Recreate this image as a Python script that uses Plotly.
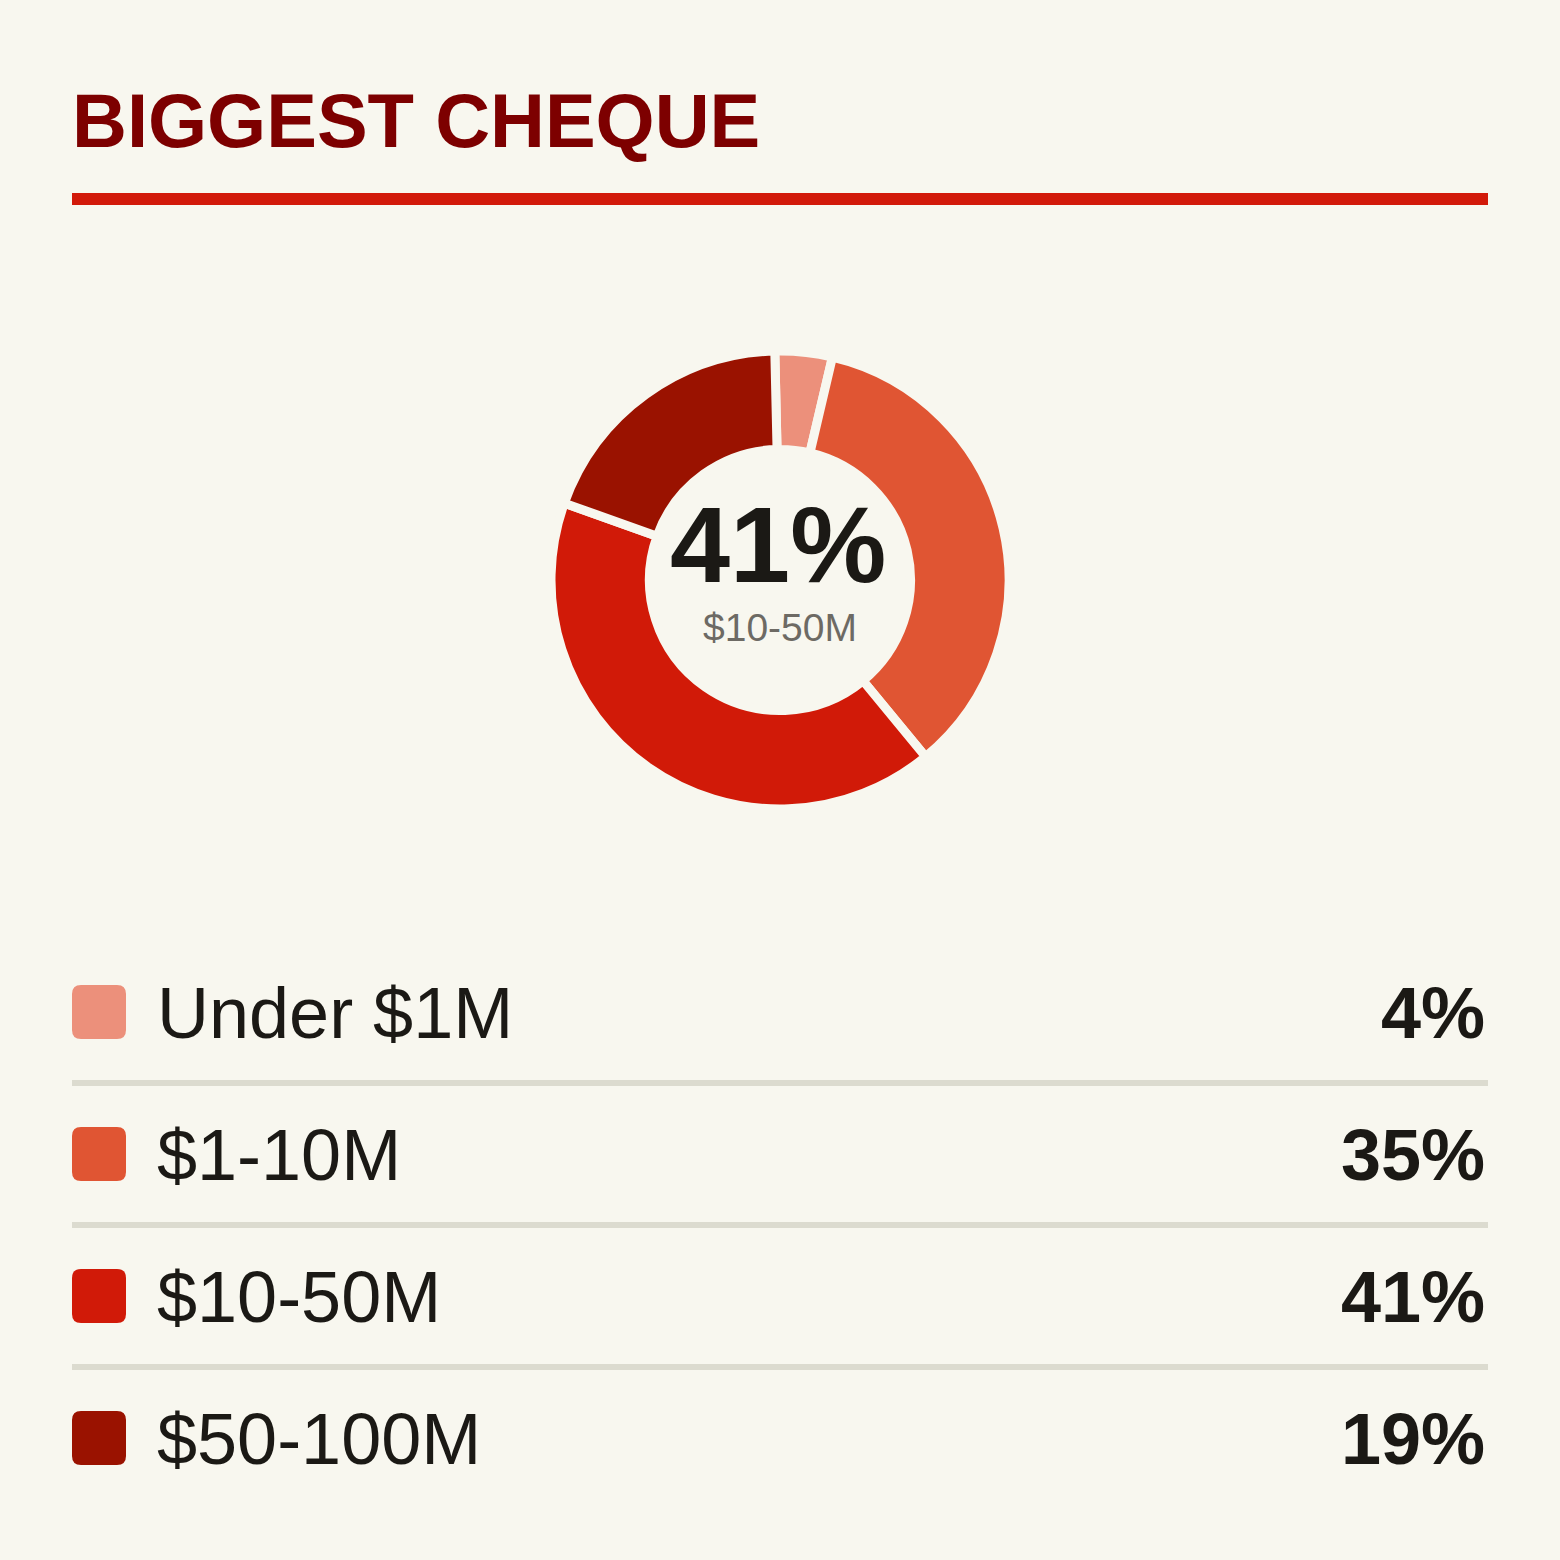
import plotly.graph_objects as go

# ---- data ----
categories = ["Under $1M", "$1-10M", "$10-50M", "$50-100M"]
values = [4, 35, 41, 19]
value_labels = ["4%", "35%", "41%", "19%"]
colors = ["#ec907b", "#e05533", "#d11a08", "#9a1200"]
title_text = "BIGGEST CHEQUE"
center_value = "41%"
center_label = "$10-50M"

BG = "#f8f7ef"
W = H = 1560
FONT = "Liberation Sans, Arial, Helvetica, sans-serif"

fig = go.Figure()

# donut
cx, cy, R = 780, 580, 229
fig.add_trace(go.Pie(
    labels=categories, values=values, sort=False, direction="clockwise",
    rotation=-1.3, hole=0.57,
    marker=dict(colors=colors, line=dict(color=BG, width=9)),
    textinfo="none", hoverinfo="label+percent", showlegend=False,
    domain=dict(x=[(cx - R) / W, (cx + R) / W], y=[1 - (cy + R) / H, 1 - (cy - R) / H]),
))

shapes = []
annotations = []

# title + rule
annotations.append(dict(x=70, y=165, xref="x", yref="y", text=f"<b>{title_text}</b>",
                        showarrow=False, xanchor="left", yanchor="bottom",
                        font=dict(family=FONT, size=76, color="#7d0000")))
shapes.append(dict(type="rect", xref="x", yref="y", x0=72, x1=1488, y0=193, y1=205,
                   fillcolor="#d21a0a", line=dict(width=0), layer="above"))

# center text
annotations.append(dict(x=cx - 2, y=544, xref="x", yref="y", text=f"<b>{center_value}</b>",
                        showarrow=False, xanchor="center", yanchor="middle",
                        font=dict(family=FONT, size=108, color="#1b1915")))
annotations.append(dict(x=cx, y=627, xref="x", yref="y", text=center_label,
                        showarrow=False, xanchor="center", yanchor="middle",
                        font=dict(family=FONT, size=39, color="#6d6a64")))

# legend rows
row0, step = 1012, 142
for i, (cat, lab, col) in enumerate(zip(categories, value_labels, colors)):
    yc = row0 + i * step
    x0, x1, y0, y1, r = 72, 126, yc - 27, yc + 27, 9
    path = (f"M {x0+r},{y0} L {x1-r},{y0} Q {x1},{y0} {x1},{y0+r} L {x1},{y1-r} "
            f"Q {x1},{y1} {x1-r},{y1} L {x0+r},{y1} Q {x0},{y1} {x0},{y1-r} "
            f"L {x0},{y0+r} Q {x0},{y0} {x0+r},{y0} Z")
    shapes.append(dict(type="path", xref="x", yref="y", path=path, fillcolor=col,
                       line=dict(width=0)))
    annotations.append(dict(x=155, y=yc + 1, xref="x", yref="y", text=cat, showarrow=False,
                            xanchor="left", yanchor="middle",
                            font=dict(family=FONT, size=72, color="#1b1915")))
    annotations.append(dict(x=1487, y=yc + 1, xref="x", yref="y", text=f"<b>{lab}</b>",
                            showarrow=False, xanchor="right", yanchor="middle",
                            font=dict(family=FONT, size=72, color="#1b1915")))
    if i < len(categories) - 1:
        shapes.append(dict(type="rect", xref="x", yref="y", x0=72, x1=1488,
                           y0=yc + 68, y1=yc + 74, fillcolor="#dcdbcf", line=dict(width=0)))

fig.update_layout(
    width=W, height=H, margin=dict(l=0, r=0, t=0, b=0),
    paper_bgcolor=BG, plot_bgcolor=BG,
    xaxis=dict(range=[0, W], visible=False, domain=[0, 1], fixedrange=True),
    yaxis=dict(range=[H, 0], visible=False, domain=[0, 1], fixedrange=True),
    shapes=shapes, annotations=annotations,
)

fig.write_html(
    "out.html",
    config={"displayModeBar": False},
    post_script="document.body.style.margin='0';document.body.style.background='" + BG + "';",
)
